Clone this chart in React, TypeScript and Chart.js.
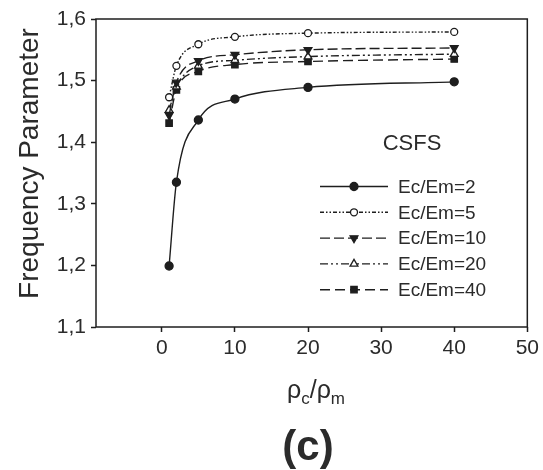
import { useEffect, useRef } from 'react';
import { Chart, registerables } from 'chart.js';
import { drawPoint } from 'chart.js/helpers';

Chart.register(...registerables);

const xValues = [1, 2, 5, 10, 20, 40];
const seriesLabels = ['Ec/Em=2', 'Ec/Em=5', 'Ec/Em=10', 'Ec/Em=20', 'Ec/Em=40'];
const ecem2 = [1.199, 1.335, 1.436, 1.47, 1.489, 1.498];
const ecem5 = [1.473, 1.524, 1.559, 1.571, 1.577, 1.579];
const ecem10 = [1.444, 1.497, 1.532, 1.542, 1.55, 1.553];
const ecem20 = [1.452, 1.49, 1.524, 1.533, 1.539, 1.543];
const ecem40 = [1.431, 1.485, 1.515, 1.526, 1.531, 1.535];
const xTicks = [0, 10, 20, 30, 40, 50];
const yTicks = [1.1, 1.2, 1.3, 1.4, 1.5, 1.6];
const legendTitle = 'CSFS';
const yTitle = 'Frequency Parameter';
const panelLabel = '(c)';

const FONT = "'Liberation Sans', Arial, sans-serif";
const INK = '#1e1e1e';
const TEXT = '#2b2b2b';

type Style = {
  dash: number[];
  pointStyle: string;
  rotation: number;
  filled: boolean;
  radius: number;
};

const styles: Style[] = [
  { dash: [], pointStyle: 'circle', rotation: 0, filled: true, radius: 4 },
  { dash: [4, 2, 1.5, 2, 1.5, 2], pointStyle: 'circle', rotation: 0, filled: false, radius: 3.5 },
  { dash: [10, 4], pointStyle: 'triangle', rotation: 180, filled: true, radius: 4.5 },
  { dash: [8, 3, 2, 3, 2, 3], pointStyle: 'triangle', rotation: 0, filled: false, radius: 4.5 },
  { dash: [10, 5], pointStyle: 'rect', rotation: 0, filled: true, radius: 4.5 },
];

const seriesValues = [ecem2, ecem5, ecem10, ecem20, ecem40];

const decorPlugin = {
  id: 'decor',
  afterDraw(chart: any) {
    const ctx = chart.ctx as CanvasRenderingContext2D;
    const a = chart.chartArea;
    ctx.save();
    // frame
    ctx.strokeStyle = INK;
    ctx.lineWidth = 1.5;
    ctx.setLineDash([]);
    ctx.strokeRect(a.left, a.top, a.right - a.left, a.bottom - a.top);

    // legend
    ctx.fillStyle = TEXT;
    ctx.font = `22px ${FONT}`;
    ctx.textAlign = 'center';
    ctx.textBaseline = 'alphabetic';
    ctx.fillText(legendTitle, 412, 149.5);
    chart.data.datasets.forEach((ds: any, i: number) => {
      const st = styles[i];
      const y = 186.5 + i * 25.8;
      ctx.strokeStyle = INK;
      ctx.lineWidth = 1.4;
      ctx.setLineDash(st.dash);
      ctx.beginPath();
      ctx.moveTo(320, y);
      ctx.lineTo(388, y);
      ctx.stroke();
      ctx.setLineDash([]);
      ctx.fillStyle = st.filled ? INK : '#ffffff';
      ctx.strokeStyle = INK;
      ctx.lineWidth = 1.3;
      drawPoint(ctx, { pointStyle: st.pointStyle as any, rotation: st.rotation, radius: st.radius, borderWidth: 1.3 }, 354, y);
      ctx.fillStyle = TEXT;
      ctx.font = `19px ${FONT}`;
      ctx.textAlign = 'left';
      ctx.textBaseline = 'middle';
      ctx.fillText(ds.label, 398, y + 1);
    });

    // y title
    ctx.save();
    ctx.translate(37.5, 163.5);
    ctx.rotate(-Math.PI / 2);
    ctx.font = `28px ${FONT}`;
    ctx.fillStyle = TEXT;
    ctx.textAlign = 'center';
    ctx.textBaseline = 'alphabetic';
    ctx.fillText(yTitle, 0, 0);
    ctx.restore();

    // x title rho_c / rho_m
    ctx.fillStyle = TEXT;
    ctx.textAlign = 'left';
    ctx.textBaseline = 'alphabetic';
    const big = `25px ${FONT}`;
    const small = `17px ${FONT}`;
    const parts: [string, string, number][] = [
      ['ρ', big, 0],
      ['c', small, 6],
      ['/', big, 0],
      ['ρ', big, 0],
      ['m', small, 6],
    ];
    let total = 0;
    parts.forEach(([t, f]) => {
      ctx.font = f;
      total += ctx.measureText(t).width;
    });
    let x = 316 - total / 2;
    const base = 398;
    parts.forEach(([t, f, dy]) => {
      ctx.font = f;
      ctx.fillText(t, x, base + dy);
      x += ctx.measureText(t).width;
    });

    // panel label
    ctx.font = `bold 42px ${FONT}`;
    ctx.textAlign = 'center';
    ctx.textBaseline = 'alphabetic';
    ctx.fillText(panelLabel, 308, 460);
    ctx.restore();
  },
};

export default function App() {
  const ref = useRef<HTMLCanvasElement | null>(null);
  useEffect(() => {
    if (!ref.current) return;
    const chart = new Chart(ref.current, {
      type: 'line',
      data: {
        datasets: seriesLabels.map((label, i) => ({
          label,
          data: xValues.map((x, j) => ({ x, y: seriesValues[i][j] })),
          borderColor: INK,
          borderWidth: 1.4,
          borderDash: styles[i].dash,
          cubicInterpolationMode: 'monotone' as const,
          pointStyle: styles[i].pointStyle as any,
          pointRotation: styles[i].rotation,
          pointRadius: styles[i].radius,
          pointBorderWidth: 1.3,
          pointBorderColor: INK,
          pointBackgroundColor: styles[i].filled ? INK : '#ffffff',
          fill: false,
        })),
      },
      options: {
        animation: false,
        responsive: true,
        maintainAspectRatio: false,
        layout: { padding: { top: 19, right: 15, left: 0, bottom: 0 } },
        plugins: { legend: { display: false }, tooltip: { enabled: false } },
        scales: {
          x: {
            type: 'linear',
            min: -9,
            max: 50,
            afterFit: (s: any) => { s.height = 143; },
            afterBuildTicks: (s: any) => { s.ticks = xTicks.map((v) => ({ value: v })); },
            border: { display: false },
            grid: { drawOnChartArea: false, drawTicks: true, tickLength: 5, tickColor: INK, tickWidth: 1.5 },
            ticks: { color: TEXT, font: { family: FONT, size: 21 }, padding: 4, maxRotation: 0 },
          },
          y: {
            type: 'linear',
            min: 1.1,
            max: 1.6,
            afterFit: (s: any) => { s.width = 96; },
            afterBuildTicks: (s: any) => { s.ticks = yTicks.map((v) => ({ value: v })); },
            border: { display: false },
            grid: { drawOnChartArea: false, drawTicks: true, tickLength: 5, tickColor: INK, tickWidth: 1.5 },
            ticks: {
              color: TEXT,
              font: { family: FONT, size: 21 },
              padding: 5,
              callback: (v: any) => Number(v).toFixed(1).replace('.', ','),
            },
          },
        },
      },
      plugins: [decorPlugin],
    });
    return () => chart.destroy();
  }, []);
  return (
    <div style={{ position: 'absolute', left: 0, top: 0, width: 543, height: 470, background: '#fff' }}>
      <canvas ref={ref} />
    </div>
  );
}
